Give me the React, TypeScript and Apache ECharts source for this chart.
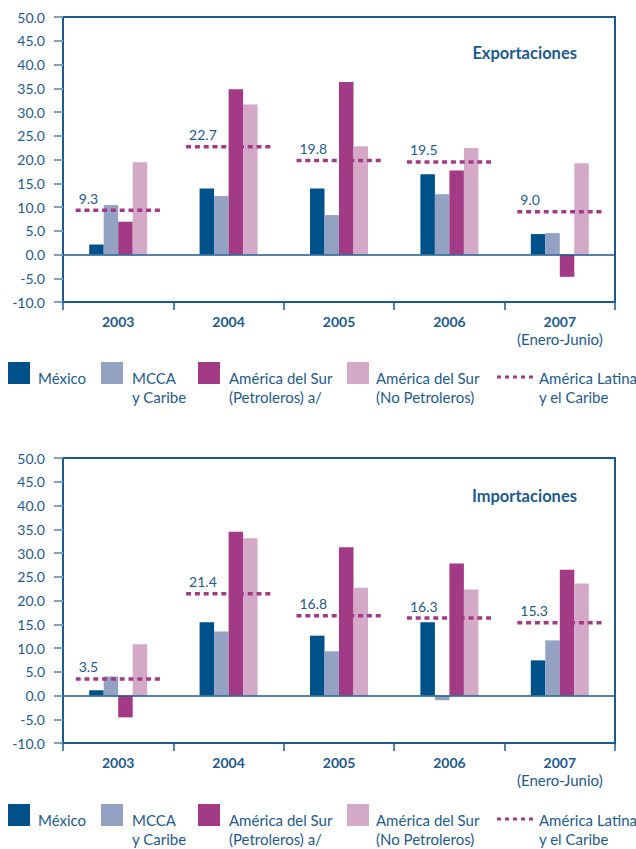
import React, { useEffect, useRef } from "react";
import * as echarts from "echarts";

const years = ["2003", "2004", "2005", "2006", "2007"];
const yearNotes = ["", "", "", "", "(Enero-Junio)"];
const seriesNames = [
  "México",
  "MCCA y Caribe",
  "América del Sur (Petroleros) a/",
  "América del Sur (No Petroleros)",
];
const lineName = "América Latina y el Caribe";

// Exportaciones
const expMexico = [2.1, 13.9, 13.9, 16.9, 4.3];
const expMCCA = [10.4, 12.3, 8.3, 12.7, 4.5];
const expPetroleros = [6.9, 34.8, 36.3, 17.7, -4.7];
const expNoPetroleros = [19.4, 31.6, 22.8, 22.4, 19.2];
const expALC = [9.3, 22.7, 19.8, 19.5, 9.0];

// Importaciones
const impMexico = [1.1, 15.4, 12.6, 15.4, 7.4];
const impMCCA = [4.0, 13.5, 9.3, -1.0, 11.6];
const impPetroleros = [-4.6, 34.5, 31.2, 27.8, 26.5];
const impNoPetroleros = [10.8, 33.1, 22.7, 22.3, 23.6];
const impALC = [3.5, 21.4, 16.8, 16.3, 15.3];

const yTicks = { min: -10, max: 50, interval: 5 };

const legendLabels = [
  "México",
  "MCCA\ny Caribe",
  "América del Sur\n(Petroleros) a/",
  "América del Sur\n(No Petroleros)",
  "América Latina\ny el Caribe",
];

const colors = ["#00508A", "#93A1C3", "#A33A86", "#D4A9C8"];
const lineColor = "#A33A86";
const textColor = "#1D5A8E";
const axisColor = "#1B5A8E";
const FONT = "Lato, 'Open Sans', sans-serif";

export default function App() {
  const ref = useRef<HTMLDivElement>(null);

  useEffect(() => {
    if (!ref.current) return;
    const chart = echarts.init(ref.current, null, { renderer: "svg" });

    const gridTops = [17, 458];
    const datasets = [
      [expMexico, expMCCA, expPetroleros, expNoPetroleros, expALC],
      [impMexico, impMCCA, impPetroleros, impNoPetroleros, impALC],
    ];
    const titles = ["Exportaciones", "Importaciones"];
    const titleY = [53, 496];
    const legendTops = [362, 804];

    const grids = gridTops.map((top) => ({
      left: 63,
      top,
      width: 552,
      height: 285,
      show: true,
      borderColor: axisColor,
      borderWidth: 2,
      backgroundColor: "transparent",
    }));

    const xAxes: any[] = [];
    gridTops.forEach((_, gi) => {
      xAxes.push({
        type: "category",
        gridIndex: gi,
        data: years,
        axisLine: { onZero: false, lineStyle: { color: axisColor, width: 2 } },
        axisTick: { show: true, length: 8, lineStyle: { color: axisColor, width: 1.5 } },
        axisLabel: {
          margin: 12,
          interval: 0,
          color: textColor,
          fontFamily: FONT,
          fontSize: 14,
          fontWeight: "bold",
        },
      });
    });
    // secondary label rows for the notes, e.g. "(Enero-Junio)"
    gridTops.forEach((_, gi) => {
      xAxes.push({
        type: "category",
        gridIndex: gi,
        position: "bottom",
        data: years,
        axisLine: { show: false, onZero: false },
        axisTick: { show: false },
        axisLabel: {
          margin: 29,
          interval: 0,
          color: textColor,
          fontFamily: FONT,
          fontSize: 15,
          formatter: (v: string) => yearNotes[years.indexOf(v)] || "",
        },
      });
    });

    const yAxes = gridTops.map((_, gi) => ({
      type: "value",
      gridIndex: gi,
      min: yTicks.min,
      max: yTicks.max,
      interval: yTicks.interval,
      splitLine: { show: false },
      axisLine: { show: true, lineStyle: { color: axisColor, width: 2 } },
      axisTick: { show: true, length: 9, lineStyle: { color: "#7FA2C4", width: 2 } },
      axisLabel: {
        margin: 18,
        color: textColor,
        fontFamily: FONT,
        fontSize: 14,
        formatter: (v: number) => v.toFixed(1),
      },
    }));

    const series: any[] = [];
    datasets.forEach((ds, gi) => {
      for (let s = 0; s < 4; s++) {
        series.push({
          type: "bar",
          name: seriesNames[s],
          xAxisIndex: gi,
          yAxisIndex: gi,
          data: ds[s],
          barWidth: 14.5,
          barGap: "0%",
          itemStyle: { color: colors[s] },
          markLine:
            s === 0
              ? {
                  silent: true,
                  symbol: "none",
                  label: { show: false },
                  lineStyle: { color: axisColor, width: 1.5, type: "solid" },
                  data: [{ yAxis: 0 }],
                }
              : undefined,
        });
      }
      const alc = ds[4];
      series.push({
        type: "custom",
        name: lineName,
        xAxisIndex: gi,
        yAxisIndex: gi,
        z: 5,
        data: alc.map((v, i) => [i, v]),
        encode: { x: 0, y: 1 },
        renderItem: (params: any, api: any) => {
          const val = api.value(1);
          const c = api.coord([api.value(0), val]);
          const w = api.size([1, 0])[0];
          const x1 = c[0] - w * 0.385;
          const x2 = c[0] + w * 0.38;
          return {
            type: "group",
            children: [
              {
                type: "line",
                shape: { x1, y1: c[1], x2, y2: c[1] },
                style: { stroke: lineColor, lineWidth: 3.5, lineDash: [5, 3.8] },
              },
              {
                type: "text",
                x: x1 + 3,
                y: c[1] - 5,
                style: {
                  text: Number(val).toFixed(1),
                  fill: textColor,
                  font: `14px ${FONT}`,
                  align: "left",
                  verticalAlign: "bottom",
                },
              },
            ],
          };
        },
      });
    });

    const graphic: any[] = [];
    titles.forEach((t, gi) => {
      graphic.push({
        type: "text",
        x: 577,
        y: titleY[gi],
        style: {
          text: t,
          fill: textColor,
          font: `bold 16.5px ${FONT}`,
          align: "right",
          verticalAlign: "middle",
        },
      });
    });

    const iconX = [8, 101, 198, 347];
    const textX = [38, 132, 229, 376, 539];
    legendTops.forEach((top) => {
      for (let s = 0; s < 4; s++) {
        graphic.push({
          type: "rect",
          shape: { x: iconX[s], y: top, width: 22, height: 22 },
          style: { fill: colors[s] },
        });
      }
      graphic.push({
        type: "line",
        shape: { x1: 497, y1: top + 15, x2: 533, y2: top + 15 },
        style: { stroke: lineColor, lineWidth: 3, lineDash: [4, 4] },
      });
      legendLabels.forEach((lab, i) => {
        graphic.push({
          type: "text",
          x: textX[i],
          y: top + 6.5,
          style: {
            text: lab,
            fill: textColor,
            font: `15px ${FONT}`,
            lineHeight: 19,
            align: "left",
            verticalAlign: "top",
          },
        });
      });
    });

    chart.setOption({
      animation: false,
      grid: grids,
      xAxis: xAxes,
      yAxis: yAxes,
      series,
      graphic,
    });

    return () => chart.dispose();
  }, []);

  return (
    <div
      ref={ref}
      style={{ position: "absolute", left: 0, top: 0, width: 636, height: 849, background: "#fff" }}
    />
  );
}
